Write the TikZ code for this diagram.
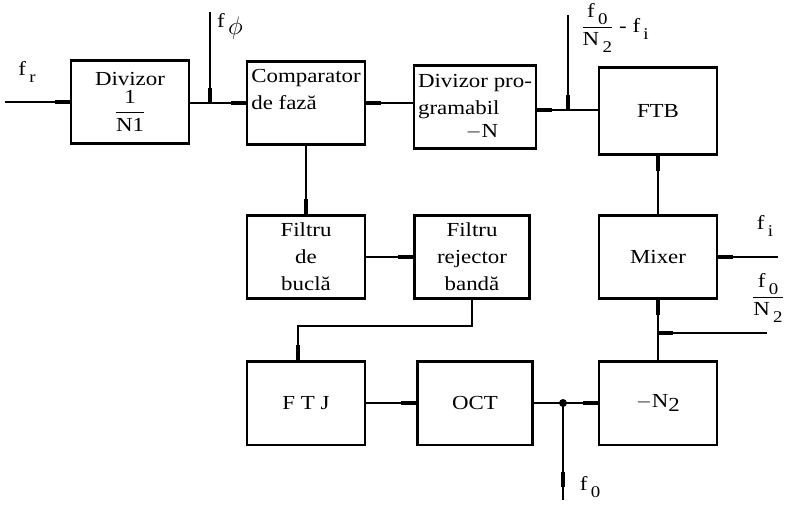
\documentclass[tikz,border=0pt]{standalone}
\usepackage{amsmath}
\usepackage{graphicx}
\usepackage{fontspec}
\setmainfont{Liberation Serif}[FakeStretch=1.15]
\usetikzlibrary{arrows.meta}
\newcommand{\jos}[1]{\,\raisebox{-0.35em}{\fontsize{14}{14}\selectfont #1}}

\begin{document}
\begin{tikzpicture}[
x=0.03cm,
y=-0.03cm,
every node/.style={
font=\fontsize{17}{23}\selectfont
},
bloc/.style={
draw,
line width=2pt,
align=center,
minimum width=3.55cm,
minimum height=2.5cm
},
sag/.style={
line width=1.1pt,
-{Rectangle[length=4.5mm,width=1.2mm]}
},
fir/.style={
line width=1.1pt
}
]

\useasboundingbox (0,0) rectangle (785,506);

\node[bloc] (D1) at (130,102)
{Divizor\\[3pt] $\dfrac{\mbox{1}}{\mbox{N1}}$};

\node[bloc, align=left] (CF) at (306,103)
{Comparator\\de fază\\ \mbox{}};

\node[bloc, align=left] (DP) at (475,107)
{Divizor pro-\\gramabil\\[-3pt] \hspace{2.4em}$-$N};

\node[bloc, minimum height=2.6cm] (FTB) at (658,111)
{FTB};

\node[bloc] (FB) at (306,257)
{Filtru\\de\\buclă};

\node[bloc, minimum width=3.45cm] (FR) at (472,257)
{Filtru\\rejector\\bandă};

\node[bloc] (MX) at (658,257)
{Mixer};

\node[bloc] (FTJ) at (306,403)
{F T J};

\node[bloc, minimum width=3.45cm] (OCT) at (475,403)
{OCT};

\node[bloc] (N2) at (658,403)
{$-$N\raisebox{-3pt}{2}};

% etichete
\node (Lfr) at (27,72)
{f\jos{r}};

\node (Lfphi) at (230,26)
{f\jos{\scalebox{1.5}{$\phi$}}};

\node (Ldif) at (615,28)
{$\dfrac{\mbox{f\jos{0}}}{\mbox{N\jos{2}}}$ - f\jos{i}};

\node (Lfi) at (765,226)
{f\jos{i}};

\node (Lf0N2) at (768,298)
{$\dfrac{\mbox{f\jos{0}}}{\mbox{N\jos{2}}}$};

\node (Lf0) at (590,487)
{f\jos{0}};

% puncte de legatura
\coordinate (Ifr) at (5,102);
\coordinate (J1) at (210,103);
\coordinate (Ifphi) at (210,12);
\coordinate (J2) at (568,110);
\coordinate (Idif) at (568,15);
\coordinate (C1) at (298,326);
\coordinate (J3) at (563,403);
\coordinate (If0) at (563,500);
\coordinate (J4) at (658,333);
\coordinate (If0N2) at (767,333);
\coordinate (Ifi) at (778,257);

\draw[sag] (Ifr) -- (D1);
\draw[fir] (D1.east |- J1) -- (J1);
\draw[sag] (J1) -- (CF.west |- J1);
\draw[sag] (Ifphi) -- (J1);
\draw[sag] (DP.west |- CF.east) -- (CF.east);
\draw[fir] (FTB.west |- J2) -- (J2);
\draw[sag] (J2) -- (DP.east |- J2);
\draw[sag] (Idif) -- (J2);
\draw[sag] (CF) -- (FB);
\draw[sag] (FB) -- (FR);
\draw[sag] (FR.south) |- (C1) -- (FTJ.north -| C1);
\draw[sag] (FTJ) -- (OCT);
\draw[fir] (OCT) -- (J3);
\draw[sag] (J3) -- (N2);
\fill (J3) circle (1.2mm);
\draw[fir] (J3) -- (If0);
\draw[sag, shorten >=4mm] (J3) -- (If0);
\draw[sag] (N2) -- (MX);
\draw[sag] (If0N2) -- (J4);
\draw[sag] (MX) -- (FTB);
\draw[sag] (Ifi) -- (MX);

\end{tikzpicture}
\end{document}
